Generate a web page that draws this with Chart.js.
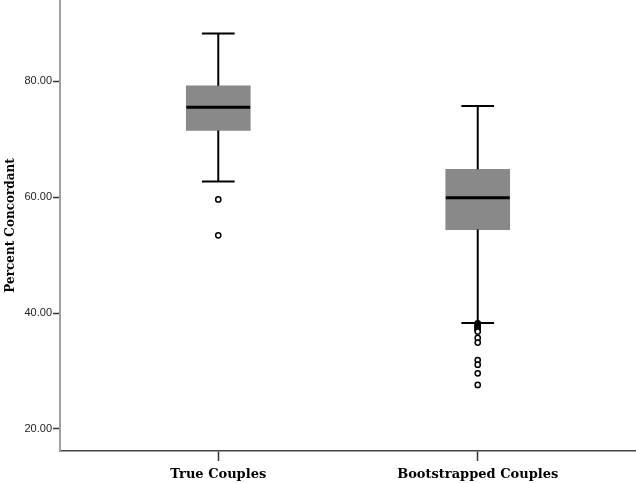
<!DOCTYPE html>
<html>
<head>
<meta charset="utf-8">
<script src="https://cdn.jsdelivr.net/npm/chart.js@4/dist/chart.umd.min.js"></script>
<style>
  html, body { margin: 0; padding: 0; background: #ffffff; }
  #wrap { width: 636px; height: 483px; }
</style>
</head>
<body>
<div id="wrap"><canvas id="c" width="636" height="483"></canvas></div>
<script>
// ---- data ----
const groups = ['True Couples', 'Bootstrapped Couples'];
const groupX = [1, 2];
const whiskerLow = [62.7, 38.3];
const q1 = [71.5, 54.4];
const median = [75.5, 59.9];
const q3 = [79.2, 64.8];
const whiskerHigh = [88.2, 75.7];
const outliersTrue = [59.6, 53.4];
const outliersBoot = [38.2, 38.0, 37.8, 37.6, 37.4, 37.2, 37.0, 36.8, 35.7, 34.9, 31.9, 31.1, 29.6, 27.6];
const yTicks = [20, 40, 60, 80];

// ---- style constants (x-unit half widths) ----
const MEDIAN_HALF = 0.123;
const CAP_HALF = 0.063;

const datasets = [];
// medians (drawn on top)
groupX.forEach((x, i) => {
  datasets.push({
    type: 'line', order: 0,
    data: [{x: x - MEDIAN_HALF, y: median[i]}, {x: x + MEDIAN_HALF, y: median[i]}],
    borderColor: '#000', borderWidth: 3, pointRadius: 0, fill: false
  });
});
// whiskers & caps
groupX.forEach((x, i) => {
  const w = 2;
  datasets.push({ type: 'line', order: 1, data: [{x: x, y: q3[i]}, {x: x, y: whiskerHigh[i]}], borderColor: '#000', borderWidth: w, pointRadius: 0 });
  datasets.push({ type: 'line', order: 1, data: [{x: x, y: q1[i]}, {x: x, y: whiskerLow[i]}], borderColor: '#000', borderWidth: w, pointRadius: 0 });
  datasets.push({ type: 'line', order: 1, data: [{x: x - CAP_HALF, y: whiskerHigh[i]}, {x: x + CAP_HALF, y: whiskerHigh[i]}], borderColor: '#000', borderWidth: 2, pointRadius: 0 });
  datasets.push({ type: 'line', order: 1, data: [{x: x - CAP_HALF, y: whiskerLow[i]}, {x: x + CAP_HALF, y: whiskerLow[i]}], borderColor: '#000', borderWidth: 2, pointRadius: 0 });
});
// outliers
datasets.push({
  type: 'scatter', order: 1,
  data: outliersTrue.map(v => ({x: groupX[0], y: v})).concat(outliersBoot.map(v => ({x: groupX[1], y: v}))),
  pointStyle: 'circle', pointRadius: 2.6, borderColor: '#000', borderWidth: 1.5, backgroundColor: '#fff'
});
// boxes
datasets.push({
  type: 'bar', order: 3,
  data: groupX.map((x, i) => ({x: x, y: [q1[i], q3[i]]})),
  backgroundColor: '#898989', borderWidth: 0, barThickness: 64
});

const bgPlugin = {
  id: 'bg',
  beforeDraw(chart) {
    const ctx = chart.ctx;
    ctx.save();
    ctx.fillStyle = '#ffffff';
    ctx.fillRect(0, 0, chart.width, chart.height);
    ctx.restore();
  }
};

new Chart(document.getElementById('c'), {
  type: 'scatter',
  data: { datasets },
  plugins: [bgPlugin],
  options: {
    responsive: false,
    animation: false,
    devicePixelRatio: 1,
    layout: { padding: 0, autoPadding: false },
    plugins: { legend: { display: false }, tooltip: { enabled: false } },
    scales: {
      x: {
        type: 'linear', min: 0.39, max: 2.61, offset: false,
        afterBuildTicks(scale) { scale.ticks = groupX.map(v => ({value: v})); },
        afterFit(scale) { scale.height = 32; scale.paddingLeft = 0; scale.paddingRight = 0; },
        ticks: {
          autoSkip: false, maxRotation: 0,
          callback(v) { const i = groupX.indexOf(v); return i >= 0 ? groups[i] : ''; },
          font: { family: 'DejaVu Serif', size: 13, weight: 'bold' },
          color: '#000', padding: 6
        },
        grid: { offset: false, drawOnChartArea: false, drawTicks: true, tickLength: 10, tickColor: '#333', tickWidth: 1.5 },
        border: { color: '#444', width: 1.5 }
      },
      y: {
        type: 'linear', min: 16.2, max: 94,
        afterBuildTicks(scale) { scale.ticks = yTicks.map(v => ({value: v})); },
        afterFit(scale) { scale.width = 60; scale.paddingTop = 0; scale.paddingBottom = 0; },
        ticks: {
          callback(v) { return Number(v).toFixed(2); },
          font: { family: 'Liberation Sans', size: 11 },
          color: '#222', padding: 1
        },
        grid: { drawOnChartArea: false, drawTicks: true, tickLength: 7, tickColor: '#333', tickWidth: 1.5 },
        border: { color: '#a0a0a0', width: 2 },
        title: {
          display: true, text: 'Percent Concordant',
          font: { family: 'DejaVu Serif', size: 12, weight: 'bold' },
          color: '#000', padding: { top: 4, bottom: 0 }
        }
      }
    }
  }
});
</script>
</body>
</html>
